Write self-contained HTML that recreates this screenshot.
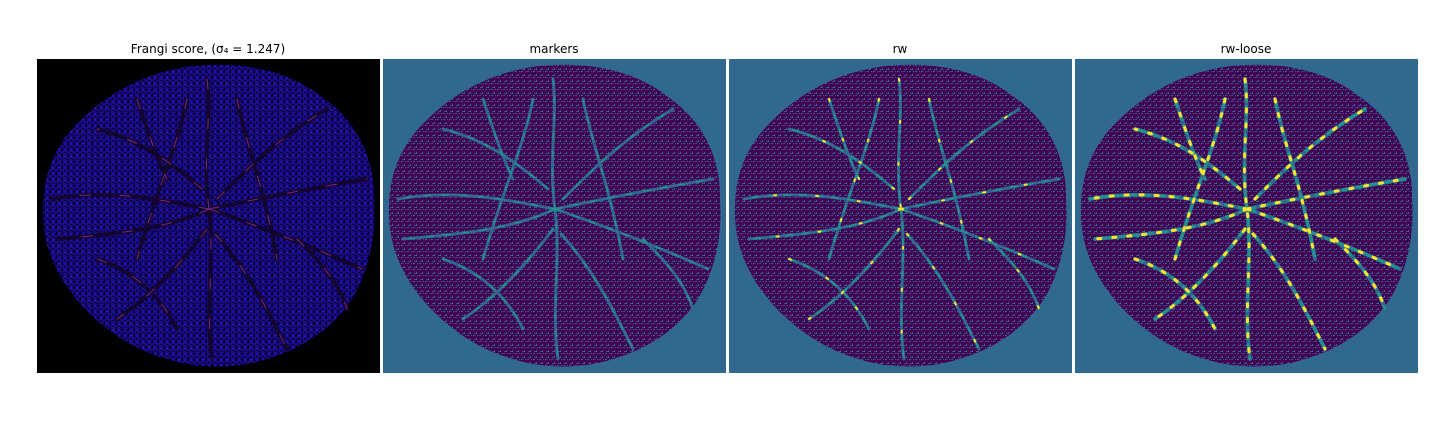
<!DOCTYPE html>
<html><head><meta charset="utf-8"><style>
body{margin:0;background:#fff;width:1440px;height:432px;overflow:hidden;font-family:"DejaVu Sans","Liberation Sans",sans-serif}
</style></head><body>
<svg width="1440" height="432" xmlns="http://www.w3.org/2000/svg">
<defs>
<pattern id="pb" width="6" height="6" patternUnits="userSpaceOnUse">
<rect width="6" height="6" fill="#180a88"/><rect x="0" y="0" width="2" height="2" fill="#05031a"/><rect x="3" y="3" width="2" height="1" fill="#05031a"/><rect x="4" y="0" width="1" height="2" fill="#2a18c0"/><rect x="1" y="4" width="1" height="2" fill="#05031a"/><rect x="5" y="4" width="1" height="1" fill="#05031a"/>
</pattern>
<pattern id="pv" width="6" height="6" patternUnits="userSpaceOnUse">
<rect width="6" height="6" fill="#440154"/><rect x="0" y="0" width="2" height="1" fill="#31688e"/><rect x="3" y="3" width="1" height="2" fill="#31688e"/><rect x="4" y="0" width="1" height="1" fill="#3b528b"/><rect x="1" y="4" width="2" height="1" fill="#3b528b"/>
</pattern>
<path id="blob" d="M170,6 C215,4 255,14 285,38 C320,62 338,100 337,140 C340,180 330,215 315,240 C295,270 265,290 230,300 C200,310 160,310 130,300 C95,290 70,272 48,250 C22,222 5,190 6,150 C6,115 18,85 45,60 C75,30 120,8 170,6 Z"/>
<g id="vessels" fill="none" stroke-linecap="round">
<path d="M170,20 C175,60 165,100 172,150 C178,200 168,250 175,300"/>
<path d="M172,150 C130,170 80,175 20,180"/>
<path d="M172,150 C220,140 270,130 330,120"/>
<path d="M165,130 C130,100 100,80 60,70"/>
<path d="M180,140 C210,110 240,80 290,50"/>
<path d="M170,170 C140,210 110,240 80,260"/>
<path d="M178,175 C210,210 230,250 250,290"/>
<path d="M172,150 C120,140 70,130 15,140"/>
<path d="M172,150 C230,170 280,190 325,210"/>
<path d="M150,40 C140,90 120,130 100,200"/>
<path d="M200,40 C210,90 225,120 240,200"/>
<path d="M60,200 C90,210 120,230 140,270"/>
<path d="M260,180 C280,200 300,220 310,250"/>
<path d="M100,40 C110,70 120,100 130,120"/>
</g>
</defs>
<g>
<text x="208" y="53" font-size="12" text-anchor="middle">Frangi score, (σ₄ = 1.247)</text>
<rect x="37" y="59" width="343" height="314" fill="#000"/>
<g transform="translate(37,59)"><use href="#blob" fill="url(#pb)"/><use href="#vessels" stroke="#120630" stroke-width="4"/><use href="#vessels" stroke="#b030a0" stroke-width="1" stroke-dasharray="10 30" opacity="0.7"/></g>
</g>
<g>
<text x="554" y="53" font-size="12" text-anchor="middle">markers</text>
<rect x="383" y="59" width="343" height="314" fill="#31688e"/>
<g transform="translate(383,59)"><use href="#blob" fill="url(#pv)"/><use href="#vessels" stroke="#31688e" stroke-width="3"/><use href="#vessels" stroke="#21918c" stroke-width="1.5" stroke-dasharray="6 12"/></g>
</g>
<g>
<text x="900" y="53" font-size="12" text-anchor="middle">rw</text>
<rect x="729" y="59" width="343" height="314" fill="#31688e"/>
<g transform="translate(729,59)"><use href="#blob" fill="url(#pv)"/><use href="#vessels" stroke="#31688e" stroke-width="3"/><use href="#vessels" stroke="#21918c" stroke-width="2" stroke-dasharray="6 10"/><use href="#vessels" stroke="#fde725" stroke-width="2" stroke-dasharray="2 40"/></g>
</g>
<g>
<text x="1246" y="53" font-size="12" text-anchor="middle">rw-loose</text>
<rect x="1075" y="59" width="343" height="314" fill="#31688e"/>
<g transform="translate(1075,59)"><use href="#blob" fill="url(#pv)"/><use href="#vessels" stroke="#31688e" stroke-width="4"/><use href="#vessels" stroke="#21918c" stroke-width="3" stroke-dasharray="8 6"/><use href="#vessels" stroke="#fde725" stroke-width="3" stroke-dasharray="3 12"/></g>
</g>
</svg>
</body></html>
